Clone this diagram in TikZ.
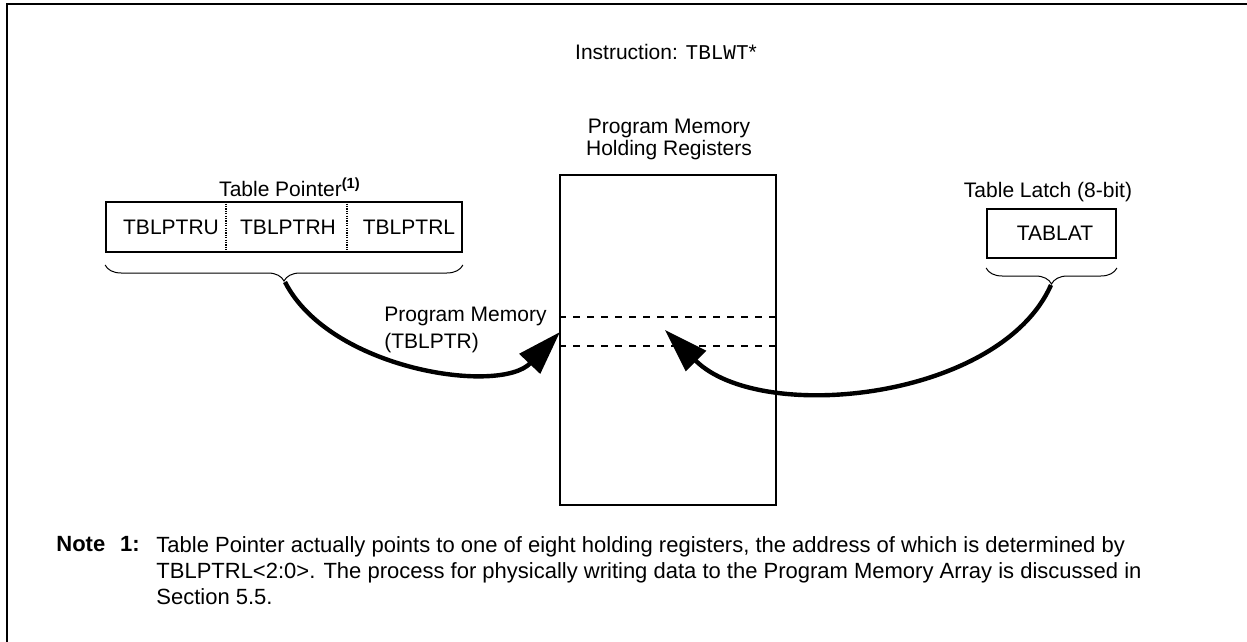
\documentclass[tikz,border=0pt]{standalone}
\usepackage{fontspec}
\setmainfont{Liberation Sans}
\setmonofont{Liberation Mono}
\usetikzlibrary{arrows.meta,decorations.pathreplacing}

\tikzset{
  regbox/.style={draw, line width=0.9pt, inner sep=0pt},
  lbl/.style={font=\fontsize{10.5}{11}\selectfont, inner sep=0pt},
  notetext/.style={font=\fontsize{11}{13}\selectfont, inner sep=0pt},
  divider/.style={line width=0.6pt, dash pattern=on 0.6pt off 0.6pt},
  slot/.style={line width=0.6pt, dash pattern=on 3.5pt off 3.5pt},
  grp/.style={decorate, decoration={brace, mirror, amplitude=8pt}, line width=0.5pt},
  flow/.style={line width=2.2pt, -{Triangle[length=22pt,width=14pt]}},
}

\begin{document}
\begin{tikzpicture}[x=0.5pt, y=-0.5pt]
  \useasboundingbox (0,0) rectangle (1247,642);

  % --- FRAME ---
  \draw[line width=1pt] (7,642) -- (7,4) -- (1247,4);

  % Title of the figure
  \node[lbl] (title) at (666,52) {Instruction: \texttt{TBLWT}*};

  % --- STEP 1: THE HOLDING REGISTERS ---

  % A. The memory block and its label
  \node[regbox, minimum width=108pt, minimum height=165pt] (hold) at (668,340) {};
  \node[lbl, align=center] (holdlbl) at (669,139) {Program Memory\\Holding Registers};

  % B. The two dashed lines of the addressed register
  \draw[slot] (hold.west |- 0,317) -- (hold.east |- 0,317);
  \draw[slot] (hold.west |- 0,346) -- (hold.east |- 0,346);

  % --- STEP 2: THE TABLE POINTER ---

  % A. Outer box, with dotted lines between the three bytes
  \node[regbox, minimum width=178pt, minimum height=25pt] (ptr) at (284,227) {};
  \draw[divider] (ptr.north -| 226,0) -- (ptr.south -| 226,0);
  \draw[divider] (ptr.north -| 347,0) -- (ptr.south -| 347,0);

  % B. The byte names
  \node[lbl] (ptru) at (171,227) {TBLPTRU};
  \node[lbl] (ptrh) at (288,227) {TBLPTRH};
  \node[lbl] (ptrl) at (409,227) {TBLPTRL};
  \node[lbl] (ptrlbl) at (290,187) {Table Pointer\textsuperscript{\textbf{(1)}}};

  % C. The brace under the whole pointer
  \draw[grp] (ptr.south west |- 0,265) -- (ptr.south east |- 0,265);
  \coordinate (ptrtip) at (285,282);

  % --- STEP 3: THE TABLE LATCH ---
  \node[regbox, minimum width=64.5pt, minimum height=24.5pt] (lat) at (1051.5,233.5) {};
  \node[lbl] (lattxt) at (1055,233) {TABLAT};
  \node[lbl] (latlbl) at (1048,192) {Table Latch (8-bit)};
  \draw[grp] (lat.south west |- 0,268) -- (lat.south east |- 0,268);
  \coordinate (lattip) at (1051,285);

  % --- STEP 4: THE DATA PATHS ---
  \coordinate (slotin) at (560,332);
  \coordinate (slotout) at (665,330);
  \draw[flow] (ptrtip) .. controls (330,370) and (500,395) .. (slotin);
  \draw[flow] (lattip) .. controls (1000,400) and (760,425) .. (slotout);
  \node[lbl, font=\fontsize{10.5}{13.5}\selectfont, align=left, anchor=north west] (pmlbl)
    at (384,307) {Program Memory\\(TBLPTR)};

  % --- NOTE ---
  \node[notetext, font=\fontsize{11}{13}\bfseries, anchor=north west] (notehd) at (56,536) {Note};
  \node[notetext, font=\fontsize{11}{13}\bfseries, anchor=north east] (notenum) at (140,536) {1:};
  \node[notetext, align=left, anchor=north west] (notebody) at (156,536)
    {Table Pointer actually points to one of eight holding registers, the address of which is determined by\\
     TBLPTRL<2:0>. The process for physically writing data to the Program Memory Array is discussed in\\
     Section 5.5.};
\end{tikzpicture}
\end{document}
